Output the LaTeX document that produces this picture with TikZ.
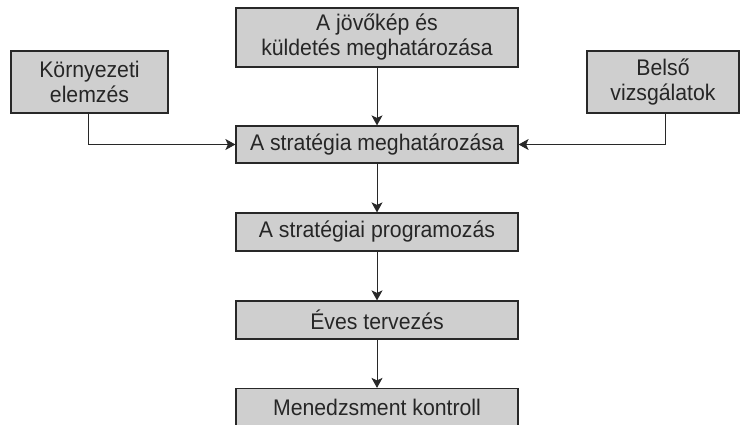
\documentclass[tikz,border=0pt]{standalone}
\usepackage{fontspec}
\setmainfont{Liberation Sans}[FakeStretch=0.94]
\usetikzlibrary{arrows.meta}
\definecolor{boxfill}{RGB}{207,207,207}
\definecolor{edge}{RGB}{40,40,40}
\begin{document}
\begin{tikzpicture}[x=1pt,y=-1pt,
  stepbox/.style={draw=edge, line width=1.2pt, fill=boxfill, inner sep=0pt,
    font=\fontsize{22.6}{25}\selectfont, text=black!85, align=center},
  flow/.style={draw=edge, line width=1pt,
    -{Stealth[length=10pt,width=11pt,inset=2.5pt]}}]
\useasboundingbox (0,0) rectangle (741,425);

% main chain
\node[stepbox, minimum width=282pt, minimum height=59pt] (vision) at (377,37.5)
  {A jövőkép és\\küldetés meghatározása};
\node[stepbox, minimum width=282pt, minimum height=37pt] (strategy) at (377,144.5)
  {A stratégia meghatározása};
\node[stepbox, minimum width=282pt, minimum height=38pt] (program) at (377,232)
  {A stratégiai programozás};
\node[stepbox, minimum width=282pt, minimum height=38pt] (annual) at (377,320)
  {Éves tervezés};
\node[stepbox, minimum width=282pt, minimum height=38pt] (control) at (377,407.5)
  {Menedzsment kontroll};

% side inputs
\node[stepbox, minimum width=157pt, minimum height=62pt] (env) at (89.5,82)
  {Környezeti\\elemzés};
\node[stepbox, minimum width=152pt, minimum height=62pt] (internal) at (663,82)
  {Belső\\vizsgálatok};

% connectors
\draw[flow] (vision) -- (strategy);
\draw[flow] (strategy) -- (program);
\draw[flow] (program) -- (annual);
\draw[flow] (annual) -- (control);
\draw[flow] (env.south -| 88,0) |- (strategy.west);
\draw[flow] (internal.south -| 665,0) |- (strategy.east);
\end{tikzpicture}
\end{document}
